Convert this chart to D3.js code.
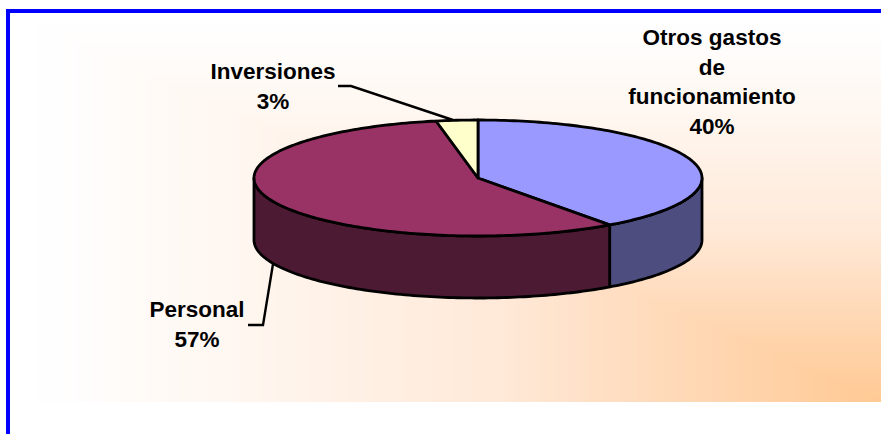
<!DOCTYPE html>
<html>
<head>
<meta charset="utf-8">
<script src="https://cdn.jsdelivr.net/npm/d3@7"></script>
<style>
  html, body { margin: 0; padding: 0; background: #fff; overflow: hidden; }
  text { font-family: "Liberation Sans", Arial, sans-serif; font-weight: bold; fill: #000; }
</style>
</head>
<body>
<div id="chart"></div>
<script>
const categories = ['Otros gastos de funcionamiento', 'Personal', 'Inversiones']
const shares = [40, 57, 3]
const labelLines = [
  ['Otros gastos', 'de', 'funcionamiento', '40%'],
  ['Personal', '57%'],
  ['Inversiones', '3%']
]
const topColors = ['#9999ff', '#993366', '#ffffcc']
const sideColors = ['#4d4d80', '#4d1a33', '#80806a']

const width = 881
const height = 434
const depth = 62

const svg = d3
  .select('#chart')
  .append('svg')
  .attr('width', width)
  .attr('height', height)

// the background is a "rectangular" fade: nested boxes closing in on the
// lower right corner, svg gradients can't do that so draw the boxes
const box = { left: 10, top: 13, right: width, bottom: 402 }
const boxX = d3.scaleLinear().domain([0, 1]).range([box.left, box.right])
const boxY = d3.scaleLinear().domain([0, 1]).range([box.top, box.bottom])
const fadeColor = d3
  .scaleLinear()
  .domain([0, 0.05, 0.275, 0.33, 0.56, 0.68, 1])
  .range(['#ffffff', '#fffefe', '#fff6ef', '#fff3ea', '#ffe9d8', '#ffdfc4', '#ffc993'])

svg
  .selectAll('.fade')
  .data(d3.range(0, 1, 1 / 128))
  .enter()
  .append('rect')
  .attr('class', 'fade')
  .attr('x', d => boxX(d))
  .attr('y', d => boxY(d))
  .attr('width', d => box.right - boxX(d))
  .attr('height', d => box.bottom - boxY(d))
  .attr('fill', d => fadeColor(d))
  .attr('shape-rendering', 'crispEdges')

// blue frame, only left and top are in the picture
svg
  .append('path')
  .attr('d', 'M8,' + height + 'V11H' + width)
  .attr('fill', 'none')
  .attr('stroke', '#0000ff')
  .attr('stroke-width', 4)

// the disc is a flat ellipse, angles are walked around it by hand
const xScale = d3.scaleLinear().domain([-1, 1]).range([254, 702])
const yScale = d3.scaleLinear().domain([-1, 1]).range([120, 236])

const rim = (angle, drop) => [
  xScale(Math.sin(angle)),
  yScale(-Math.cos(angle)) + drop
]

function arcPoints (start, end, drop) {
  const steps = Math.max(2, Math.ceil(Math.abs(end - start) / 0.02))
  return d3.range(steps + 1).map(i => rim(start + (end - start) * i / steps, drop))
}

const line = d3.line()
const pie = d3.pie().sort(null)
const slices = pie(shares)

// only the part of the wall facing us can be seen
const front = [Math.PI / 2, 3 * Math.PI / 2]

const chart = svg.append('g')
  .attr('stroke', '#000')
  .attr('stroke-width', 2.8)
  .attr('stroke-linejoin', 'round')

chart
  .selectAll('.wall')
  .data(slices.filter(d => d.endAngle > front[0] && d.startAngle < front[1]))
  .enter()
  .append('path')
  .attr('class', 'wall')
  .attr('fill', d => sideColors[d.index])
  .attr('d', d => {
    const a = Math.max(d.startAngle, front[0])
    const b = Math.min(d.endAngle, front[1])
    return line(arcPoints(a, b, 0).concat(arcPoints(b, a, depth))) + 'Z'
  })

chart
  .selectAll('.slice')
  .data(slices)
  .enter()
  .append('path')
  .attr('class', 'slice')
  .attr('fill', d => topColors[d.index])
  .attr('d', d => line([[xScale(0), yScale(0)]].concat(arcPoints(d.startAngle, d.endAngle, 0))) + 'Z')

// leader lines
const leaders = [
  [[338, 86], [351, 86], [453, 120]],
  [[248, 325], [263, 325], [273, 264]]
]
svg
  .selectAll('.leader')
  .data(leaders)
  .enter()
  .append('path')
  .attr('class', 'leader')
  .attr('d', d => line(d))
  .attr('fill', 'none')
  .attr('stroke', '#000')
  .attr('stroke-width', 2.4)

const labelPlaces = [
  { x: 712, y: 45 },
  { x: 197, y: 317 },
  { x: 273, y: 79 }
]

svg
  .selectAll('.label')
  .data(categories)
  .enter()
  .append('text')
  .attr('class', 'label')
  .attr('text-anchor', 'middle')
  .attr('font-size', 22.5)
  .each(function (d, i) {
    d3.select(this)
      .selectAll('tspan')
      .data(labelLines[i])
      .enter()
      .append('tspan')
      .attr('x', labelPlaces[i].x)
      .attr('y', (t, j) => labelPlaces[i].y + j * 29.5)
      .text(t => t)
  })
</script>
</body>
</html>
